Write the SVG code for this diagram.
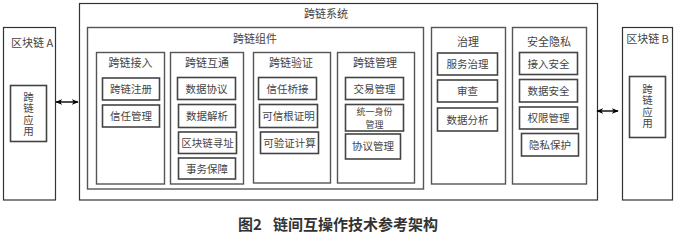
<svg xmlns="http://www.w3.org/2000/svg" width="675" height="240" viewBox="0 0 675 240">
<style>
.frame{fill:#fff;stroke:#333;stroke-width:1.2}
.group{fill:#fff;stroke:#555;stroke-width:1.4}
.item{fill:#fff;stroke:#444;stroke-width:1.6}
text{font-family:"Noto Sans CJK SC","Liberation Serif",sans-serif;fill:#444;font-size:10.5px;text-anchor:middle}
.title{font-size:11px}
.vert{writing-mode:vertical-rl;text-anchor:start;letter-spacing:1px}
.cap{font-size:15px;fill:#333;text-anchor:start;font-weight:bold}
.conn{stroke:#000;stroke-width:1.4;fill:none}
</style>
<defs>
<marker id="ah" viewBox="0 0 10 10" refX="9" refY="5" markerWidth="7" markerHeight="7" markerUnits="userSpaceOnUse" orient="auto-start-reverse">
<path d="M0,1 L10,5 L0,9 L3,5 Z" fill="#000"/>
</marker>
</defs>
<rect width="675" height="240" fill="#fff"/>

<g id="chainA">
<rect class="frame" x="3.5" y="27.5" width="52" height="172.5"/>
<text class="title" x="32" y="47">区块链 A</text>
<rect class="item" x="10.5" y="85.5" width="36" height="56"/>
<text class="vert" x="28.5" y="91.5">跨链应用</text>
</g>

<g id="system">
<rect class="frame" x="79.5" y="3.5" width="518" height="196.5"/>
<text class="title" x="326" y="18">跨链系统</text>
</g>

<g id="components">
<rect class="group" x="87.5" y="27.5" width="336" height="161.5"/>
<text class="title" x="255" y="43">跨链组件</text>
</g>

<g id="access">
<rect class="group" x="96.5" y="52.5" width="68" height="131.5"/>
<text class="title" x="130.5" y="67">跨链接入</text>
<rect class="item" x="102.5" y="78" width="57" height="22"/>
<text x="131" y="93">跨链注册</text>
<rect class="item" x="102.5" y="105" width="57" height="22"/>
<text x="131" y="120">信任管理</text>
</g>

<g id="interop">
<rect class="group" x="170.5" y="52.5" width="73" height="131.5"/>
<text class="title" x="207" y="67">跨链互通</text>
<rect class="item" x="177.5" y="77.5" width="58" height="22"/>
<text x="206.5" y="92.5">数据协议</text>
<rect class="item" x="178.5" y="104.5" width="57" height="23"/>
<text x="207" y="120">数据解析</text>
<rect class="item" x="178.5" y="132" width="58" height="21.5"/>
<text x="207.5" y="146.5">区块链寻址</text>
<rect class="item" x="178.5" y="158" width="57" height="21"/>
<text x="207" y="172.5">事务保障</text>
</g>

<g id="verify">
<rect class="group" x="253.5" y="52.5" width="77" height="130.5"/>
<text class="title" x="291" y="67">跨链验证</text>
<rect class="item" x="258.5" y="77.5" width="58" height="22"/>
<text x="287.5" y="92.5">信任桥接</text>
<rect class="item" x="259.5" y="104.5" width="58" height="23"/>
<text x="288.5" y="120">可信根证明</text>
<rect class="item" x="260.5" y="132" width="58" height="21.5"/>
<text x="289.5" y="146.5">可验证计算</text>
</g>

<g id="manage">
<rect class="group" x="337.5" y="52.5" width="77" height="130.5"/>
<text class="title" x="375" y="67">跨链管理</text>
<rect class="item" x="345.5" y="77.5" width="58" height="22"/>
<text x="374.5" y="92.5">交易管理</text>
<rect class="item" x="345.5" y="104.5" width="58" height="26.5"/>
<text x="374.5" y="115" style="font-size:9px"><tspan x="374.5" y="115">统一身份</tspan><tspan x="374.5" y="128.2">管理</tspan></text>
<rect class="item" x="345.5" y="134" width="55" height="25"/>
<text x="373" y="150">协议管理</text>
</g>

<g id="governance">
<rect class="group" x="431.5" y="27.5" width="74" height="156.5"/>
<text class="title" x="468" y="46">治理</text>
<rect class="item" x="437.5" y="53" width="60" height="22"/>
<text x="467.5" y="68">服务治理</text>
<rect class="item" x="437.5" y="80" width="60" height="22"/>
<text x="467.5" y="95">审查</text>
<rect class="item" x="437.5" y="108" width="60" height="23"/>
<text x="467.5" y="123.5">数据分析</text>
</g>

<g id="security">
<rect class="group" x="512.5" y="27.5" width="74" height="156.5"/>
<text class="title" x="549" y="46">安全隐私</text>
<rect class="item" x="519.5" y="52.5" width="58" height="22"/>
<text x="548.5" y="67.5">接入安全</text>
<rect class="item" x="519.5" y="79.5" width="58" height="22.5"/>
<text x="548.5" y="94.5">数据安全</text>
<rect class="item" x="519.5" y="107" width="58" height="22"/>
<text x="548.5" y="122">权限管理</text>
<rect class="item" x="521.5" y="133.5" width="57" height="22.5"/>
<text x="550" y="148.5">隐私保护</text>
</g>

<g id="chainB">
<rect class="frame" x="622.5" y="27.5" width="50" height="172.5"/>
<text class="title" x="647.5" y="43">区块链 B</text>
<rect class="item" x="629.5" y="76.5" width="36" height="61"/>
<text class="vert" x="647.5" y="83.5">跨链应用</text>
</g>

<g id="connectors">
<line class="conn" x1="56" y1="102" x2="78" y2="102" marker-start="url(#ah)" marker-end="url(#ah)"/>
<line class="conn" x1="597" y1="111" x2="618" y2="111" marker-start="url(#ah)" marker-end="url(#ah)"/>
</g>

<g id="caption">
<text class="cap" x="238" y="230">图2</text>
<text class="cap" x="273" y="230">链间互操作技术参考架构</text>
</g>
</svg>
